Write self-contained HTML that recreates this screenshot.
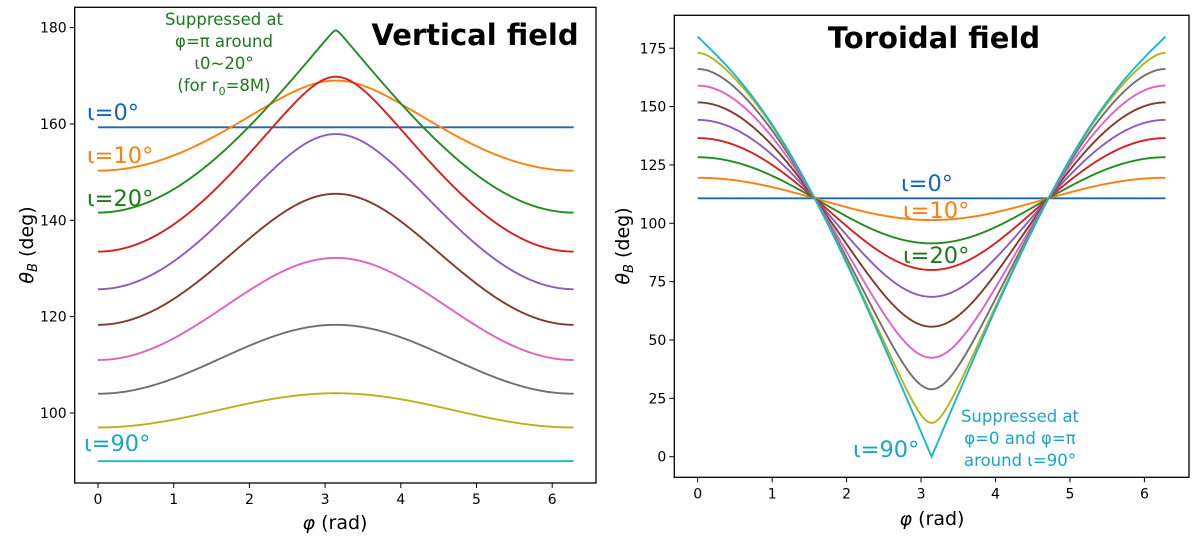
<!DOCTYPE html>
<html><head><meta charset="utf-8"><style>
body{margin:0;background:#fff}
svg{display:block;font-family:"DejaVu Sans","Liberation Sans",sans-serif}
</style></head><body>
<svg id="c" width="1200" height="536" viewBox="0 0 1200 536">
<g id="L"></g>
<g id="R"></g>
<g font-family="DejaVu Sans, Liberation Sans, sans-serif">
<text x="475" y="45" font-size="29" font-weight="bold" text-anchor="middle">Vertical field</text>
<text x="934" y="48" font-size="29" font-weight="bold" text-anchor="middle">Toroidal field</text>
<g fill="#1a7a1a" font-size="16.5" text-anchor="middle">
<text x="224" y="25">Suppressed at</text><text x="224" y="47">φ=π around</text><text x="224" y="69">ι0~20°</text><text x="224" y="91">(for r<tspan font-size="11" dy="4">0</tspan><tspan dy="-4">=8M)</tspan></text>
</g>
<text x="87" y="120" font-size="22.5" fill="#1565c0">ι=0°</text>
<text x="87" y="163" font-size="22.5" fill="#ff7f0e">ι=10°</text>
<text x="87" y="206" font-size="22.5" fill="#1a7a1a">ι=20°</text>
<text x="84" y="451" font-size="22.5" fill="#17a5c8">ι=90°</text>
<text x="901" y="191" font-size="22.5" fill="#1565c0">ι=0°</text>
<text x="903" y="218" font-size="22.5" fill="#ff7f0e">ι=10°</text>
<text x="903" y="263" font-size="22.5" fill="#1a7a1a">ι=20°</text>
<text x="853" y="457" font-size="22.5" fill="#17a5c8">ι=90°</text>
<g fill="#17a5c8" font-size="16.5" text-anchor="middle">
<text x="1020" y="422">Suppressed at</text><text x="1020" y="444">φ=0 and φ=π</text><text x="1020" y="466">around ι=90°</text>
</g>
<text x="335" y="529" font-size="19" text-anchor="middle"><tspan font-style="italic">φ</tspan> (rad)</text>
<text x="932" y="525" font-size="19" text-anchor="middle"><tspan font-style="italic">φ</tspan> (rad)</text>
<text transform="translate(33,245) rotate(-90)" font-size="19" text-anchor="middle"><tspan font-style="italic">θ</tspan><tspan font-size="13" dy="4" font-style="italic">B</tspan><tspan dy="-4"> (deg)</tspan></text>
<text transform="translate(629,246) rotate(-90)" font-size="19" text-anchor="middle"><tspan font-style="italic">θ</tspan><tspan font-size="13" dy="4" font-style="italic">B</tspan><tspan dy="-4"> (deg)</tspan></text>
</g>
</svg>
<script>
// Inclination labels for the series
const inclinations = [0,10,20,30,40,50,60,70,80,90];
const colors = ["#1f66b4","#ff7f0e","#228b22","#d62020","#8a5cc0","#7f3b2c","#e062c0","#6f6f6f","#b5b51a","#17b8cf"];
// Vertical field: theta_B at phi=0 (=2pi) and at phi=pi
const vertEdge = [159.3,150.3,141.6,133.5,125.7,118.3,111.0,104.0,97.0,90.0];
const vertPeak = [159.3,169.0,179.4,169.8,157.9,145.5,132.2,118.3,104.1,90.0];
// Toroidal field: theta_B at phi=0, phi=pi/2 and phi=pi
const torEdge = [110.7,119.5,128.3,136.5,144.3,151.8,159.0,166.1,173.0,180.0];
const torMid  = [110.7,110.7,110.7,110.7,110.7,110.7,110.7,110.7,110.7,110.7];
const torMin  = [110.7,101.4,91.4,80.0,68.5,55.7,42.4,28.9,14.5,0.0];
const xTicks = [0,1,2,3,4,5,6];
const vertYTicks = [100,120,140,160,180];
const torYTicks = [0,25,50,75,100,125,150,175];

const NS="http://www.w3.org/2000/svg";
function mk(parent,tag,attrs,text){const e=document.createElementNS(NS,tag);for(const k in attrs)e.setAttribute(k,attrs[k]);if(text!==undefined)e.textContent=text;parent.appendChild(e);return e;}
const D=Math.PI/180;
function curve3(a,m,b){
  const ca=Math.cos(a*D),cm=Math.cos(m*D),cb=Math.cos(b*D);
  const c1=(ca-cb)/2, s=(ca+cb)/2; const c0=(s+cm)/2, c2=(s-cm)/2;
  return p=>Math.acos(Math.max(-1,Math.min(1,c0+c1*Math.cos(p)+c2*Math.cos(2*p))))/D;
}
function curve2(a,b){const ca=Math.cos(a*D),cb=Math.cos(b*D);const c0=(ca+cb)/2,c1=(ca-cb)/2;
  return p=>Math.acos(Math.max(-1,Math.min(1,c0+c1*Math.cos(p))))/D;}

function panel(g,box,xs,ys,yTicks,funcs,name){
  const [x0,y0,x1,y1]=box;
  for(let i=0;i<funcs.length;i++){
    let d="";for(let k=0;k<=600;k++){const p=2*Math.PI*k/600;d+=(k?"L":"M")+xs(p).toFixed(2)+","+ys(funcs[i](p)).toFixed(2);}
    const path=mk(g,"path",{d:d,fill:"none",stroke:colors[i],"stroke-width":1.9});
    
    
  }
  const fr=mk(g,"rect",{x:x0,y:y0,width:x1-x0,height:y1-y0,fill:"none",stroke:"#000","stroke-width":1.3});
  
  
  xTicks.forEach(t=>{const x=xs(t);mk(g,"line",{x1:x,x2:x,y1:y1,y2:y1+5,stroke:"#000","stroke-width":1});
    const tl=mk(g,"text",{x:x,y:y1+21,"text-anchor":"middle","font-size":14},t);
    
    });
  yTicks.forEach(t=>{const y=ys(t);mk(g,"line",{x1:x0-5,x2:x0,y1:y,y2:y,stroke:"#000","stroke-width":1});
    const tl=mk(g,"text",{x:x0-8,y:y+5,"text-anchor":"end","font-size":14},t);
    
    });
}
const L=document.getElementById("L"),R=document.getElementById("R");
const lxs=p=>98+75.7*p, lys=v=>413-(v-100)*4.8175;
panel(L,[74.7,7.3,596,483],lxs,lys,vertYTicks,vertEdge.map((a,i)=>curve2(a,vertPeak[i])),"vertical");
const rxs=p=>697.7+74.45*p, rys=v=>456.7-v*2.334;
panel(R,[674.3,15.3,1189,477.3],rxs,rys,torYTicks,torEdge.map((a,i)=>curve3(a,torMid[i],torMin[i])),"toroidal");
</script>
</body></html>
